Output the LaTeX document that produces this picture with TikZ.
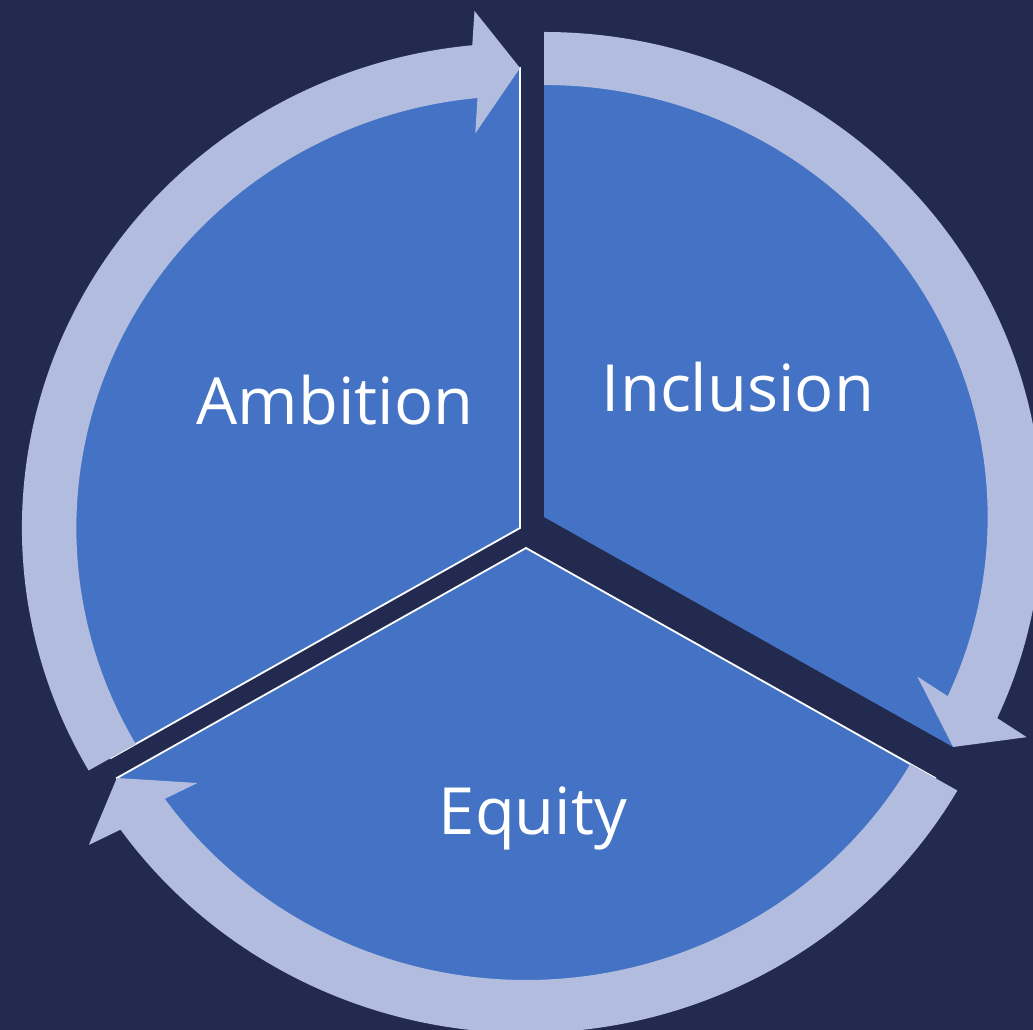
\documentclass[tikz,border=0pt]{standalone}
\usepackage{fontspec}
\setmainfont{Open Sans}
\usepackage{xcolor}
\usepackage{tikz}
\usetikzlibrary{positioning,calc}
\definecolor{navybg}{HTML}{232A4F}
\definecolor{pieceblue}{HTML}{4472C4}
\definecolor{ringblue}{HTML}{B2BCDF}
\tikzset{
    piece/.style={fill=pieceblue},
    piece outlined/.style={piece, draw=white, line width=0.018cm},
    arrowring/.style={fill=ringblue},
    piecetext/.style={text=white, font=\fontsize{18.5}{22}\selectfont, anchor=base, inner sep=0pt}
}

\begin{document}
\begin{tikzpicture}[x=0.01cm, y=0.01cm]
    % Background
    \fill [navybg] (0,0) rectangle (1033,1030);
    \useasboundingbox (0,0) rectangle (1033,1030);

    % Ambition
    \begin{scope}[shift={(520,502)}, xscale=1.027]
        \draw [piece outlined] (0,0) -- (90:460) arc[start angle=90, end angle=210, radius=460] -- cycle;
        \fill [arrowring] (210:485) arc[start angle=210, end angle=95.5, radius=485] -- (94.9:519) -- (90:460) -- (96.3:397) -- (95.5:432) arc[start angle=95.5, end angle=210, radius=432] -- cycle;
    \end{scope}

    % Inclusion
    \begin{scope}[shift={(544,513)}, xscale=1.027]
        \fill [piece] (0,0) -- (90:460) arc[start angle=90, end angle=-30, radius=460] -- cycle;
        \fill [arrowring] (90:485) arc[start angle=90, end angle=-24.5, radius=485] -- (-25.1:519) -- (-30:460) -- (-23.7:397) -- (-24.5:432) arc[start angle=-24.5, end angle=90, radius=432] -- cycle;
    \end{scope}

    % Equity
    \begin{scope}[shift={(526,482)}, xscale=1.027]
        \draw [piece outlined] (0,0) -- (-30:460) arc[start angle=-30, end angle=-150, radius=460] -- cycle;
        \fill [arrowring] (-30:485) arc[start angle=-30, end angle=-144.5, radius=485] -- (-145.1:519) -- (-150:460) -- (-143.7:397) -- (-144.5:432) arc[start angle=-144.5, end angle=-30, radius=432] -- cycle;
    \end{scope}

    % Labels
    \node [piecetext] (ambition) at (335,605) {Ambition};
    \node [piecetext] (inclusion) at (738,618) {Inclusion};
    \node [piecetext] (equity) at (533,195) {Equity};
\end{tikzpicture}
\end{document}
